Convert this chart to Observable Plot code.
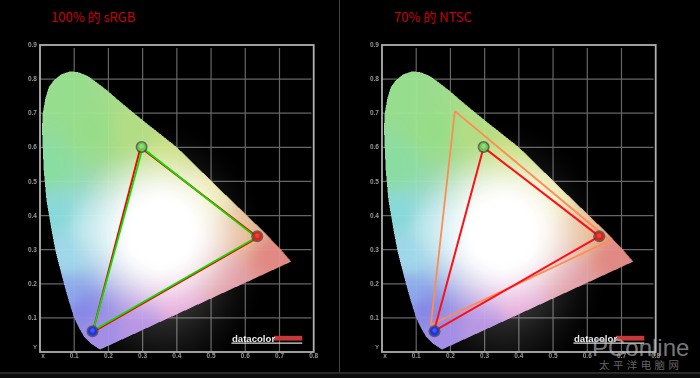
<!DOCTYPE html>
<html><head><meta charset="utf-8">
<script src="https://cdn.jsdelivr.net/npm/d3@7"></script>
<script src="https://cdn.jsdelivr.net/npm/@observablehq/plot@0.6"></script>
<style>
html,body{margin:0;padding:0;background:#000;width:700px;height:378px;overflow:hidden}
.abs{position:absolute;white-space:nowrap}
svg{display:block;filter:blur(.4px)}
</style></head><body>
<script>
const locusX=[.734,.700,.650,.600,.550,.500,.450,.400,.350,.313,.265,.235,.196,.166,.138,.112,.089,.062,.040,.026,.016,.008,.006,.007,.011,.019,.034,.045,.057,.070,.084,.099,.113,.128,.150,.175];
const locusY=[.265,.305,.356,.405,.453,.502,.551,.600,.640,.669,.708,.733,.767,.790,.810,.820,.823,.814,.796,.777,.745,.699,.660,.620,.532,.444,.356,.298,.250,.200,.150,.102,.072,.046,.024,.007];
const xTicks=[.1,.2,.3,.4,.5,.6,.7,.8];
const yTicks=[.1,.2,.3,.4,.5,.6,.7,.8,.9];
const gridX=[.1,.2,.3,.4,.5,.6,.7];
const gridY=[.1,.2,.3,.4,.5,.6,.7,.8];
const anchorX=[.05,.03,.15,.27,.04,.14,.08,.08,.12,.17,.30,.40,.55,.68,.60,.50,.38];
const anchorY=[.75,.55,.65,.65,.40,.36,.28,.17,.12,.05,.08,.14,.20,.28,.36,.47,.58];
const anchorColor=["#9ce693","#8fe6a6","#9ce68e","#bae688","#8ce2e2","#b6ecf2","#a6e2f4","#92b2f4","#8b8bef","#ab92ef","#c29cec","#efabe0","#eaa6b0","#ea8d88","#efc49c","#efea9c","#d3e888"];
const srgbX=[.632,.300,.155,.632],srgbY=[.336,.598,.062,.336];
const leftMeasuredX=[.637,.294,.154,.637],leftMeasuredY=[.336,.600,.058,.336];
const rightMeasuredX=[.635,.297,.152,.635],rightMeasuredY=[.339,.600,.061,.339];
const ntscX=[.667,.213,.143,.667],ntscY=[.327,.706,.080,.327];
const markerX=[.635,.297,.1535],markerY=[.339,.601,.061];
const markerColor=["#d8231c","#6cc94e","#1f35e0"];
const markerGlow=["#f04a3a","#9be08a","#4a63ff"];
const logoName="datacolor";
const titles=["100% 的 sRGB","70% 的 NTSC"];

const poly=locusX.map((x,i)=>[x,locusY[i]]);
const anchors=anchorX.map((x,i)=>{const c=d3.rgb(anchorColor[i]);return [x,anchorY[i],c.r,c.g,c.b]});
const clamp=v=>Math.max(0,Math.min(1,v));
function inside(x,y){return d3.polygonContains(poly,[x,y]);}
function base(x,y){
  let r=0,g=0,b=0,s=0;
  for(const a of anchors){const d=(x-a[0])**2+(y-a[1])**2+1e-3,w=1/Math.pow(d,1.5);r+=w*a[2];g+=w*a[3];b+=w*a[4];s+=w;}
  return [r/s,g/s,b/s];
}
function whiteness(x,y){
  const w=clamp((.29-Math.hypot(x-.355,y-.35))/.21);
  return w*w*(3-2*w);
}
function color(x,y){
  if(!inside(x,y)) return "#fff";
  const c=base(x,y),w=whiteness(x,y);
  return `rgb(${c.map(v=>Math.round(v+(255-v)*w)).join(",")})`;
}
function alpha(x,y){
  if(inside(x,y)) return .96+.04*whiteness(x,y);
  const d=Math.hypot((x-.36)*1.3,y-.28);
  return .45*Math.pow(clamp(1-d/.40),1.6);
}
function panel(left,width,lineSets,title,titleLeft){
  const marks=[
    Plot.ruleX(gridX,{y1:0,y2:.89,stroke:"#666",strokeWidth:1.2}),
    Plot.ruleY(gridY,{x1:0,x2:.795,stroke:"#666",strokeWidth:1.2}),
    Plot.raster({x1:0,x2:.8,y1:0,y2:.9,pixelSize:.5,fill:color,fillOpacity:alpha}),
    Plot.frame({stroke:"#b0b0b0",strokeWidth:1.8}),
    Plot.axisX(xTicks,{anchor:"bottom",tickSize:0,tickPadding:1.5,tickFormat:d=>d3.format(".1f")(d),fontSize:6.5,fontWeight:"bold",fill:"#999",label:null}),
    Plot.axisY(yTicks,{anchor:"left",tickSize:0,tickPadding:3,tickFormat:d=>d3.format(".1f")(d),fontSize:6.5,fontWeight:"bold",fill:"#999",label:null}),
    Plot.text(["x"],{x:[.009],y:[0],dy:4,fontSize:6.5,fontWeight:"bold",fill:"#999"}),
    Plot.text(["Y"],{x:[0],y:[.013],dx:-5,fontSize:6,fontWeight:"bold",fill:"#999"}),
    Plot.rectY([0],{x1:[.685],x2:[.768],y1:[.032],y2:[.046],fill:"#c93838"}),
    Plot.ruleY([.026],{x1:.561,x2:.768,stroke:"#ddd",strokeWidth:1.4}),
    Plot.text([logoName],{x:[.561],y:[.0285],textAnchor:"start",lineAnchor:"bottom",fontFamily:"Liberation Sans",fontWeight:"bold",fontSize:9.6,fill:"#eee"})
  ];
  for(const s of lineSets) marks.push(Plot.line(s.x.map((x,i)=>[x,s.y[i]]),{x:d=>d[0],y:d=>d[1],stroke:s.stroke,strokeWidth:s.w,strokeLinejoin:"miter"}));
  marks.push(Plot.dot(markerX,{x:d=>d,y:(d,i)=>markerY[i],r:6,fill:"#444",fillOpacity:.75}));
  marks.push(Plot.dot(markerX,{x:d=>d,y:(d,i)=>markerY[i],r:4.4,fill:(d,i)=>markerColor[i]}));
  marks.push(Plot.dot(markerX,{x:d=>d,y:(d,i)=>markerY[i]+.002,r:2.2,fill:(d,i)=>markerGlow[i],fillOpacity:.8}));
  const svg=Plot.plot({width,height:378,marginLeft:39.5,marginRight:width-313.2,marginTop:44.5,marginBottom:26.5,
    x:{domain:[0,.8]},y:{domain:[0,.9]},style:{background:"transparent",fontFamily:"Liberation Sans"},marks});
  svg.style.position="absolute";svg.style.left=left+"px";svg.style.top="0";
  document.body.appendChild(svg);
  const t=document.createElement("div");t.className="abs";t.textContent=title;
  t.style.cssText+=`left:${titleLeft}px;top:6px;color:#c8000a;font:13px/22px 'Noto Sans CJK SC'`;
  document.body.appendChild(t);
}
panel(0,339,[{x:leftMeasuredX,y:leftMeasuredY,stroke:"#ff0000",w:2},{x:srgbX,y:srgbY,stroke:"#00e400",w:1.7}],titles[0],51);
panel(341.5,358.5,[{x:ntscX,y:ntscY,stroke:"#ff8c50",w:1.8},{x:rightMeasuredX,y:rightMeasuredY,stroke:"#ff0f14",w:2}],titles[1],394);
function box(css,text){const d=document.createElement("div");d.className="abs";d.style.cssText+=css;if(text)d.textContent=text;document.body.appendChild(d);}
box("left:338.6px;top:0;width:1.4px;height:372px;background:#444");
box("left:0;top:372px;width:700px;height:2px;background:#2a2a2a");
box("left:0;top:374px;width:700px;height:4px;background:#0c0c0c");
box("left:592px;top:333px;color:rgba(190,190,190,.65);font:24px/30px 'Liberation Sans'","PConline");
box("left:599px;top:358px;color:rgba(200,200,200,.5);font:10.5px/14px 'Noto Sans CJK SC';letter-spacing:3.4px","太平洋电脑网");
</script>
</body></html>
